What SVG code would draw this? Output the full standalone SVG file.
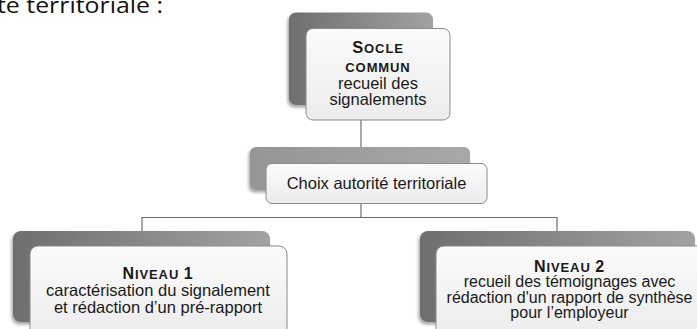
<svg xmlns="http://www.w3.org/2000/svg" width="697" height="329" viewBox="0 0 697 329">
  <defs>
    <linearGradient id="backGrad" x1="0" y1="0" x2="1" y2="0">
      <stop offset="0" stop-color="#6e6e6e"/>
      <stop offset="1" stop-color="#a2a2a2"/>
    </linearGradient>
    <linearGradient id="backGradLight" x1="0" y1="0" x2="1" y2="0">
      <stop offset="0" stop-color="#959595"/>
      <stop offset="1" stop-color="#a8a8a8"/>
    </linearGradient>
    <linearGradient id="frontGrad" x1="0" y1="0" x2="0" y2="1">
      <stop offset="0" stop-color="#fbfbfb"/>
      <stop offset="1" stop-color="#ececec"/>
    </linearGradient>
    <filter id="shadow" x="-10%" y="-10%" width="120%" height="130%">
      <feDropShadow dx="-1.5" dy="2.5" stdDeviation="1.8" flood-color="#000" flood-opacity="0.35"/>
    </filter>
  </defs>
  <style>
    .back { fill: url(#backGrad); filter: url(#shadow); }
    .backL { fill: url(#backGradLight); filter: url(#shadow); }
    .front { fill: url(#frontGrad); stroke: #8a8a8a; stroke-width: 1; }
    .t { font-family: "Liberation Sans", Arial, sans-serif; fill: #1a1a1a; text-anchor: middle; }
    .body { font-size: 16.5px; }
    .bodyR { font-size: 16px; }
    .sc { font-weight: bold; letter-spacing: 0.9px; }
    .conn { stroke: #6f6f6f; stroke-width: 1.2; fill: none; }
    .intro { font-family: "Open Sans", "Noto Sans", sans-serif; font-size: 22px; fill: #111; }
  </style>

  <text class="intro" x="-3" y="12.5" textLength="166" lengthAdjust="spacingAndGlyphs">te territoriale :</text>

  <g id="connectors">
    <line class="conn" x1="361" y1="105" x2="361" y2="147"/>
    <line class="conn" x1="361" y1="190" x2="361" y2="217.5"/>
    <polyline class="conn" points="142,231 142,217.5 557,217.5 557,231"/>
  </g>

  <g id="socle-commun">
    <rect class="back" x="289" y="12.5" width="144" height="92.5" rx="7"/>
    <rect class="front" x="306" y="28.5" width="144" height="91.5" rx="7"/>
    <text class="t sc" x="378" y="53"><tspan font-size="16.5">S</tspan><tspan font-size="13">OCLE</tspan></text>
    <text class="t sc" x="378" y="71.5" font-size="13">COMMUN</text>
    <text class="t body" x="378" y="88.5">recueil des</text>
    <text class="t body" x="378" y="105">signalements</text>
  </g>

  <g id="choix">
    <rect class="backL" x="250" y="147" width="220" height="43" rx="6"/>
    <rect class="front" x="266" y="163.5" width="221" height="40" rx="6"/>
    <text class="t body" x="376.5" y="189">Choix autorité territoriale</text>
  </g>

  <g id="niveau-1">
    <rect class="back" x="13" y="231" width="257" height="91" rx="8"/>
    <rect class="front" x="30" y="246" width="257" height="91" rx="8"/>
    <text class="t sc" x="158" y="279"><tspan font-size="16">N</tspan><tspan font-size="13">IVEAU </tspan><tspan font-size="16">1</tspan></text>
    <text class="t body" x="158" y="296">caractérisation du signalement</text>
    <text class="t body" x="158" y="312.5">et rédaction d’un pré-rapport</text>
  </g>

  <g id="niveau-2">
    <rect class="back" x="420" y="231" width="275" height="91" rx="8"/>
    <rect class="front" x="436" y="246" width="275" height="91" rx="8"/>
    <text class="t sc" x="569.5" y="271.5"><tspan font-size="16">N</tspan><tspan font-size="13">IVEAU </tspan><tspan font-size="16">2</tspan></text>
    <text class="t bodyR" x="569.5" y="287">recueil des témoignages avec</text>
    <text class="t bodyR" x="569.5" y="302.5">rédaction d'un rapport de synthèse</text>
    <text class="t bodyR" x="569.5" y="318">pour l’employeur</text>
  </g>
</svg>
